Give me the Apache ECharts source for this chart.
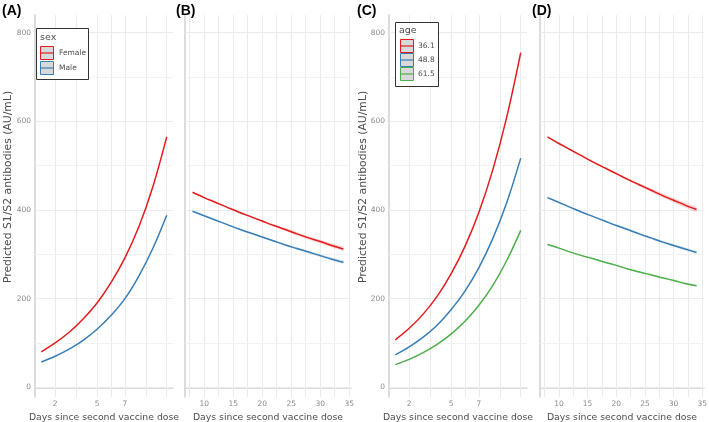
<!DOCTYPE html>
<html><head><meta charset="utf-8">
<script src="https://cdn.jsdelivr.net/npm/echarts@6/dist/echarts.min.js"></script>
<style>html,body{margin:0;padding:0;background:#fff}#c{width:709px;height:422px}</style>
</head><body><div id="c"></div>
<script>
// ---- data ----
const daysEarly = [1,2,3,4,5,6,7,8,9,10];
const daysLate = [8,10,12,14,16,18,20,22,24,26,28,30,32,34];
const femaleEarly = [80,100,124,154,190,236,292,362,452,565];
const maleEarly   = [57,70,86,106,131,162,200,251,313,388];
const femaleLate  = [440,428,417,406,395,385,375,365,356,346,337,329,320,312];
const maleLate    = [397,387,377,367,357,348,339,330,321,313,305,297,289,282];
const age361Early = [107,133,165,205,256,318,395,491,610,755];
const age488Early = [73,91,113,140,175,217,270,336,417,517];
const age615Early = [51,63,78,97,120,149,185,230,286,354];
const age361Late  = [565,550,536,522,508,495,482,469,457,445,433,422,411,401];
const age488Late  = [428,417,406,395,385,375,365,356,346,337,328,320,312,304];
const age615Late  = [322,314,305,297,290,282,275,267,260,254,247,241,234,229];
// confidence half-widths (AU/mL) of the late-phase ribbons
const femaleLateCI = [1,1,1,1.5,1.5,2,2,2.5,3,3.5,4,4,4.5,5];
const maleLateCI   = [1,1,1,1,1.5,1.5,2,2,2.5,2.5,3,3,3.5,4];
const age361LateCI = [1,1,1.5,1.5,2,2,2.5,3,3.5,4,4.5,5,5.5,6];
const age488LateCI = [1,1,1,1,1.5,1.5,2,2,2.5,2.5,3,3,3.5,4];
const age615LateCI = [1,1,1,1,1,1,1.5,1.5,1.5,2,2,2.5,2.5,3];
const earlyTicks = [2,5,7];
const lateTicks = [10,15,20,25,30,35];
const yTicks = [0,200,400,600,800];
const earlyGridX = [2,3.5,5,6,7,8.5,10];
const lateGridX = [7.5,10,12.5,15,17.5,20,22.5,25,27.5,30,32.5,35];
const yGrid = [0,100,200,300,400,500,600,700,800];
const sexNames = ['Female','Male'];
const ageNames = ['36.1','48.8','61.5'];
const yTitle = 'Predicted S1/S2 antibodies (AU/mL)';
const xTitle = 'Days since second vaccine dose';

const RED='#E41A1C', BLUE='#377EB8', GREEN='#4DAF4A';
const pairs = (xs, ys) => xs.map((x,i)=>[x, ys[i]]);

const chart = echarts.init(document.getElementById('c'), null, {renderer:'canvas'});
const gTop=15, gH=382;
const grids = [
  {left:35, top:gTop, width:138, height:gH, outerBoundsMode:'none', containLabel:false},
  {left:185, top:gTop, width:166, height:gH, outerBoundsMode:'none', containLabel:false},
  {left:389, top:gTop, width:138, height:gH, outerBoundsMode:'none', containLabel:false},
  {left:540, top:gTop, width:164, height:gH, outerBoundsMode:'none', containLabel:false}
];
const axisLineStyle = {show:true, lineStyle:{color:'#d0d0d0', width:1.5}};
function xAxis(i, early){
  return {type:'value', gridIndex:i, min: early?0.55:6.7, max: early?10.45:35.3,
    axisLine:axisLineStyle, axisTick:{show:false}, splitLine:{show:false},
    axisLabel:{customValues: early?earlyTicks:lateTicks, color:'#8a8a8a', fontSize:7.5, margin:3, fontFamily:'DejaVu Sans'},
    name:xTitle, nameLocation:'middle', nameGap:11,
    nameTextStyle:{color:'#4d4d4d', fontSize:9.3, fontFamily:'DejaVu Sans', verticalAlign:'top'}};
}
function yAxis(i, labels){
  return {type:'value', gridIndex:i, min:-22, max:840,
    axisLine:axisLineStyle, axisTick:{show:false}, splitLine:{show:false},
    axisLabel:{show:labels, customValues:yTicks, color:'#8a8a8a', fontSize:7.5, margin:4, fontFamily:'DejaVu Sans'}};
}
function gridSeries(i, gx){
  const data = gx.map(v=>({xAxis:v})).concat(yGrid.map(v=>({yAxis:v, lineStyle:{color: v%200===0?'#ebebeb':'#f2f2f2'}})));
  return {type:'line', xAxisIndex:i, yAxisIndex:i, data:[[gx[0], 0]], symbol:'none', lineStyle:{opacity:0}, z:1, silent:true,
    markLine:{z:1, silent:true, symbol:'none', label:{show:false}, animation:false, lineStyle:{color:'#ebebeb', width:1, type:'solid'}, data}};
}
function line(i, xs, ys, color){
  return {type:'line', xAxisIndex:i, yAxisIndex:i, data:pairs(xs, ys), smooth:0.35, symbol:'none', z:10,
    lineStyle:{color, width:1.5}, animation:false};
}
function ribbon(i, xs, ys, ci, color){
  return {type:'custom', coordinateSystem:'cartesian2d', xAxisIndex:i, yAxisIndex:i, z:5, silent:true,
    data:[[xs[0], ys[0]]],
    renderItem:(params, api) => {
      const up = xs.map((x,k)=>api.coord([x, ys[k]+ci[k]]));
      const lo = xs.map((x,k)=>api.coord([x, ys[k]-ci[k]])).reverse();
      return {type:'polygon', shape:{points: up.concat(lo)}, style:{fill:color, opacity:0.18}};
    }};
}

const series = [
  gridSeries(0, earlyGridX), gridSeries(1, lateGridX), gridSeries(2, earlyGridX), gridSeries(3, lateGridX),
  ribbon(1, daysLate, femaleLate, femaleLateCI, RED), ribbon(1, daysLate, maleLate, maleLateCI, BLUE),
  ribbon(3, daysLate, age361Late, age361LateCI, RED), ribbon(3, daysLate, age488Late, age488LateCI, BLUE), ribbon(3, daysLate, age615Late, age615LateCI, GREEN),
  line(0, daysEarly, femaleEarly, RED), line(0, daysEarly, maleEarly, BLUE),
  line(1, daysLate, femaleLate, RED), line(1, daysLate, maleLate, BLUE),
  line(2, daysEarly, age361Early, RED), line(2, daysEarly, age488Early, BLUE), line(2, daysEarly, age615Early, GREEN),
  line(3, daysLate, age361Late, RED), line(3, daysLate, age488Late, BLUE), line(3, daysLate, age615Late, GREEN)
];

function key(x, y, color){
  return [
    {type:'rect', shape:{x:x+0.5, y:y+0.5, width:13, height:13}, style:{fill:'#d9d9d9', stroke:color, lineWidth:1}, z:20},
    {type:'line', shape:{x1:x+0.5, y1:y+7, x2:x+13.5, y2:y+7}, style:{stroke:color, lineWidth:1.2}, z:21}
  ];
}
const txt = (x, y, text, size, extra) => ({type:'text', x, y, z:21, style:Object.assign({text, fill:'#4d4d4d', fontSize:size, fontFamily:'DejaVu Sans', textVerticalAlign:'middle'}, extra||{})});
const bold = {fontWeight:'bold', fill:'#000', fontFamily:'Liberation Sans'};
const graphics = [
  txt(2, 11, '(A)', 14, bold), txt(176, 11, '(B)', 14, bold), txt(357, 11, '(C)', 14, bold), txt(532, 11, '(D)', 14, bold),
  {type:'text', x:8, y:187, rotation:Math.PI/2, z:21, style:{text:yTitle, fill:'#4d4d4d', fontSize:10.8, fontFamily:'DejaVu Sans', textAlign:'center', textVerticalAlign:'middle'}},
  {type:'text', x:363, y:187, rotation:Math.PI/2, z:21, style:{text:yTitle, fill:'#4d4d4d', fontSize:10.8, fontFamily:'DejaVu Sans', textAlign:'center', textVerticalAlign:'middle'}},
  // legend A
  {type:'rect', shape:{x:36.5, y:28.5, width:52, height:51}, style:{fill:'#fff', stroke:'#333', lineWidth:1}, z:19},
  txt(40, 38, 'sex', 9.5),
  ...key(40, 46, RED), ...key(40, 61, BLUE),
  txt(59, 53, sexNames[0], 7.5), txt(59, 68, sexNames[1], 7.5),
  // legend C
  {type:'rect', shape:{x:395.5, y:22.5, width:43, height:64}, style:{fill:'#fff', stroke:'#333', lineWidth:1}, z:19},
  txt(399, 31, 'age', 9.5),
  ...key(400, 39, RED), ...key(400, 53, BLUE), ...key(400, 67, GREEN),
  txt(418, 46, ageNames[0], 7.5), txt(418, 60, ageNames[1], 7.5), txt(418, 74, ageNames[2], 7.5)
];

chart.setOption({
  animation:false,
  backgroundColor:'#fff',
  grid: grids,
  xAxis: [xAxis(0,true), xAxis(1,false), xAxis(2,true), xAxis(3,false)],
  yAxis: [yAxis(0,true), yAxis(1,false), yAxis(2,true), yAxis(3,false)],
  series,
  graphic: graphics
});
</script></body></html>
